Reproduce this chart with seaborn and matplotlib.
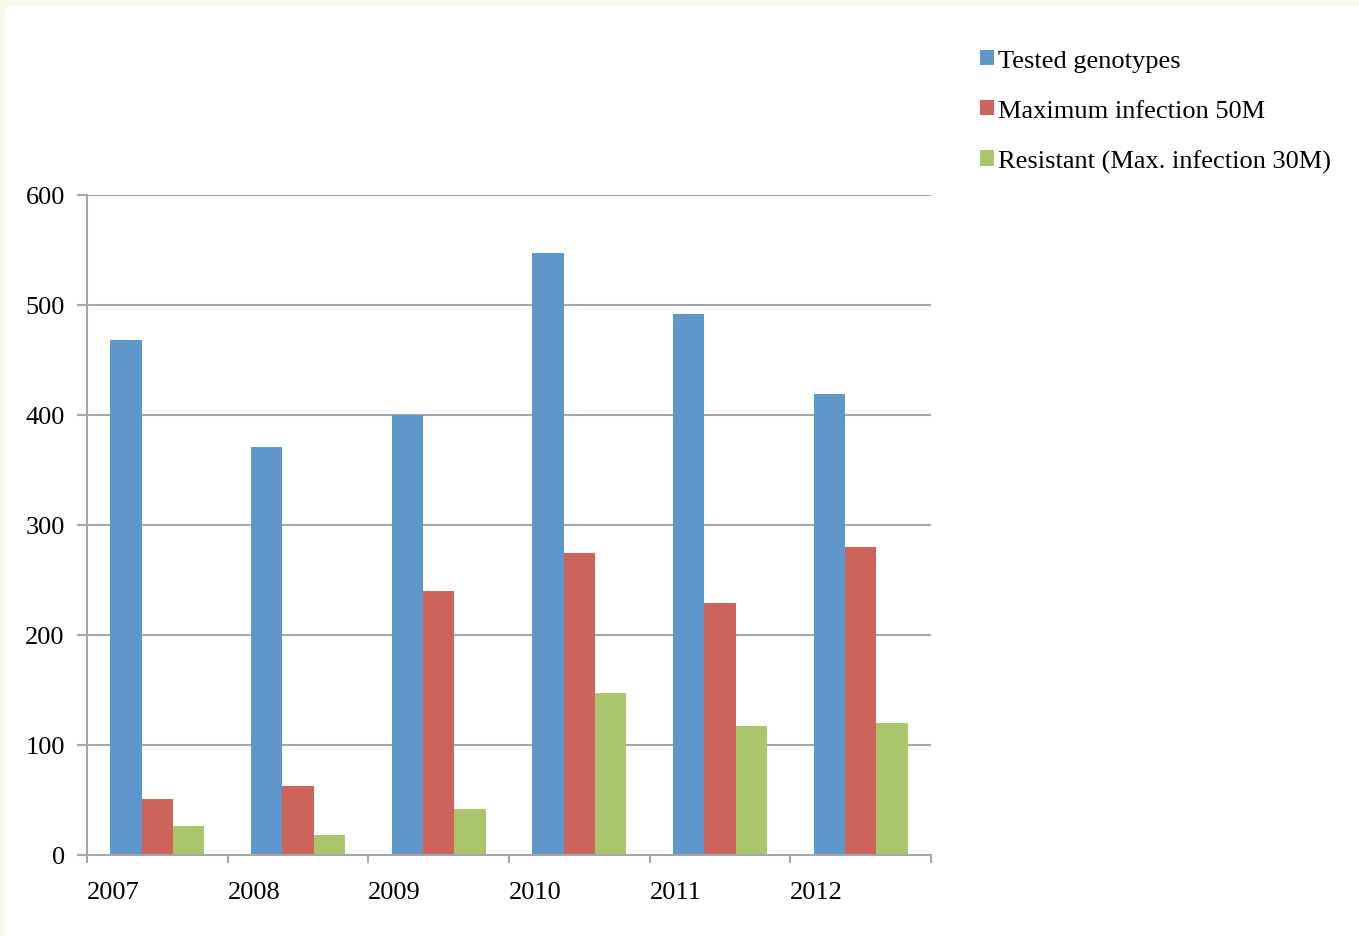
import matplotlib.pyplot as plt
import matplotlib.patches as mpatches
import pandas as pd
import seaborn as sns

years = ["2007", "2008", "2009", "2010", "2011", "2012"]
series = ["Tested genotypes", "Maximum infection 50M", "Resistant (Max. infection 30M)"]
tested = [468, 371, 400, 547, 492, 419]
max_infection = [51, 63, 240, 275, 229, 280]
resistant = [26, 18, 42, 147, 117, 120]
colors = ["#6097CB", "#CD645C", "#AAC56B"]

df = pd.DataFrame({
    "year": years * 3,
    "value": tested + max_infection + resistant,
    "series": [s for s in series for _ in years],
})

sns.set_style("white")
plt.rcParams["font.family"] = ["Liberation Serif", "DejaVu Serif"]
plt.rcParams["text.color"] = "black"
plt.rcParams["xtick.labelcolor"] = "black"
plt.rcParams["ytick.labelcolor"] = "black"

fig = plt.figure(figsize=(13.59, 9.37), dpi=100)
fig.patch.set_facecolor("#F7FAE8")
# white page inside the pale frame
fig.add_artist(mpatches.Rectangle((6 / 1359, 0), 1, 1 - 7 / 937,
                                  transform=fig.transFigure,
                                  facecolor="white", edgecolor="none", zorder=0))

ax = fig.add_axes([87 / 1359, 1 - 856 / 937, 844 / 1359, 660 / 937])
ax.set_facecolor("none")

sns.barplot(data=df, x="year", y="value", hue="series", palette=colors,
            width=0.67, saturation=1, gap=0, ax=ax, zorder=3,
            edgecolor="none", linewidth=0)

handles, labels = ax.get_legend_handles_labels()
ax.get_legend().remove()

ax.set_xlim(-0.5, 5.5)
ax.set_ylim(0, 600)
ax.set_yticks(range(0, 601, 100))
ax.set_yticklabels([str(v) for v in range(0, 601, 100)], fontsize=19, color="black")
ax.set_xticks([i - 0.5 for i in range(7)])
ax.set_xticklabels(years + [""], fontsize=19, ha="left", color="black")
ax.set_xlabel("")
ax.set_ylabel("")

for y in range(100, 601, 100):
    ax.axhline(y, color="#A6A6A6", linewidth=1.5, zorder=1)

grey = "#A6A6A6"
for side in ["top", "right"]:
    ax.spines[side].set_visible(False)
for side in ["left", "bottom"]:
    ax.spines[side].set_color(grey)
    ax.spines[side].set_linewidth(1.5)
    ax.spines[side].set_zorder(4)

ax.tick_params(axis="y", which="major", direction="out", length=7, width=1.5,
               color=grey, pad=9, left=True)
ax.tick_params(axis="x", which="major", direction="out", length=6, width=1.5,
               color=grey, pad=13, bottom=True)

fig.legend(handles, labels, loc="upper left",
           bbox_to_anchor=(969 / 1359, 1 - 40 / 937),
           frameon=False, fontsize=19, handlelength=0.55, handleheight=0.55,
           handletextpad=0.15, labelspacing=1.05, borderaxespad=0,
           labelcolor="black")

fig.savefig("out.png", dpi=100, facecolor=fig.get_facecolor())
